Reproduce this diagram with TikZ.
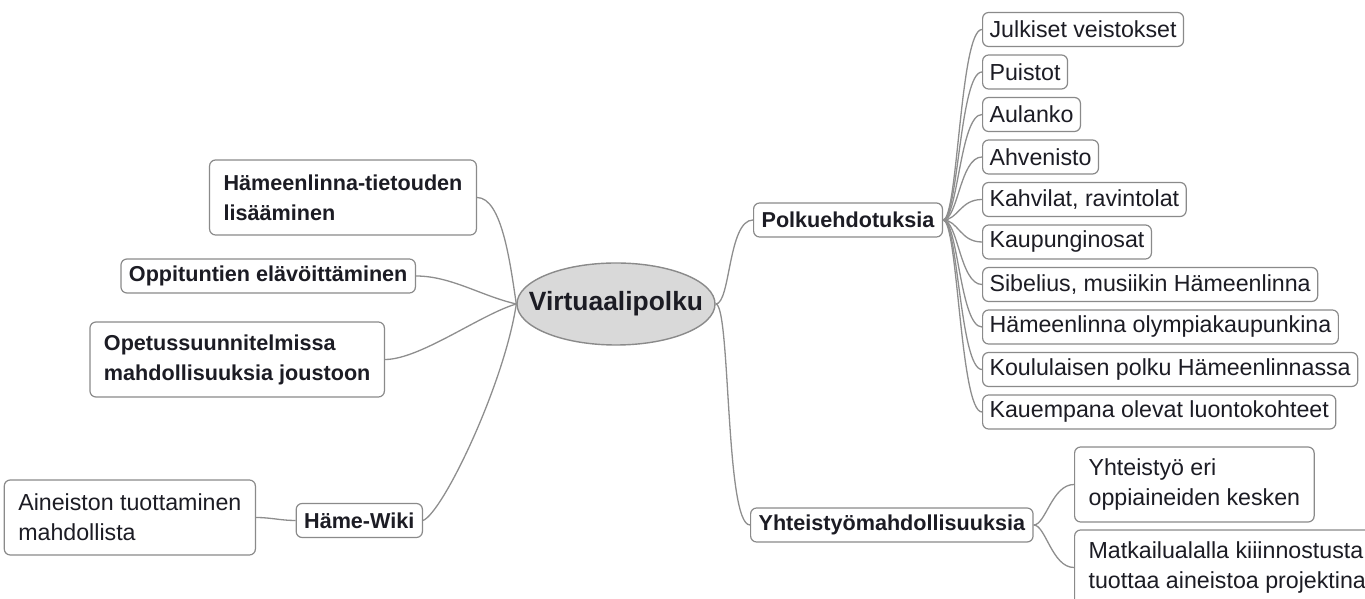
\documentclass[tikz,border=0pt]{standalone}
\usepackage{fontspec}
\setmainfont{Liberation Sans}
\usepackage{tikz}
\usetikzlibrary{shapes.geometric}
\definecolor{linegray}{HTML}{8E8E8E}
\definecolor{boxgray}{HTML}{8A8A8A}
\definecolor{hubfill}{HTML}{D9D9D9}
\definecolor{inkblack}{HTML}{1C1C24}
\tikzset{
  topic/.style={draw=boxgray,fill=white,rounded corners=3pt,line width=0.6pt,text=inkblack,inner xsep=3.5pt,inner ysep=0pt,minimum height=17pt,font=\fontsize{11.6}{15}\selectfont},
  branch/.style={topic,inner xsep=4pt,font=\fontsize{10.8}{15}\selectfont\bfseries},
  twoline/.style={align=left,inner xsep=7pt,minimum height=37.5pt},
  link/.style={draw=linegray,line width=0.65pt}
}

\begin{document}
\begin{tikzpicture}[x=0.5pt,y=0.5pt]
\useasboundingbox (0,0) rectangle (1365,599);
\clip (0,0) rectangle (1365,599);
% keskus
\node[ellipse,draw=boxgray,fill=hubfill,line width=0.7pt,minimum width=99pt,minimum height=41pt,inner sep=0pt,text=inkblack,font=\fontsize{13.2}{15}\selectfont\bfseries](v)at(616,295){\makebox[0pt]{Virtuaalipolku}};
% vasen puoli
\node[branch,twoline,anchor=east](hl)at(477,401.5){Hämeenlinna-tietouden\\lisääminen};
\node[branch,anchor=east](ot)at(416,323){Oppituntien elävöittäminen};
\node[branch,twoline,anchor=east](op)at(385,239.5){Opetussuunnitelmissa\\mahdollisuuksia joustoon};
\node[branch,anchor=east](hw)at(423,78.5){Häme-Wiki};
\node[topic,twoline,anchor=east](ai)at(256,81.5){Aineiston tuottaminen\\mahdollista};
\draw[link] (v.west) .. controls +(-6,40) and +(25,0) .. (hl.east);
\draw[link] (v.west) .. controls +(-35,8) and +(35,0) .. (ot.east);
\draw[link] (v.west) .. controls +(-35,-10) and +(35,0) .. (op.east);
\draw[link] (v.west) .. controls +(-12,-80) and +(20,8) .. (hw.east);
\draw[link] (hw.west) .. controls +(-15,0) and +(15,0) .. (ai.east);
% oikea puoli
\node[branch,anchor=west](pe)at(753,379){Polkuehdotuksia};
\node[branch,anchor=west](ym)at(750,74){Yhteistyömahdollisuuksia};
\draw[link] (v.east) .. controls +(15,0) and +(-25,0) .. (pe.west);
\draw[link] (v.east) .. controls +(15,0) and +(-25,0) .. (ym.west);
\node[topic,anchor=west](p1)at(982,569.5){Julkiset veistokset};
\node[topic,anchor=west](p2)at(982,527){Puistot};
\node[topic,anchor=west](p3)at(982,484.5){Aulanko};
\node[topic,anchor=west](p4)at(982,442){Ahvenisto};
\node[topic,anchor=west](p5)at(982,399.5){Kahvilat, ravintolat};
\node[topic,anchor=west](p6)at(982,357){Kaupunginosat};
\node[topic,anchor=west](p7)at(982,314.5){Sibelius, musiikin Hämeenlinna};
\node[topic,anchor=west](p8)at(982,272){Hämeenlinna olympiakaupunkina};
\node[topic,anchor=west](p9)at(982,229.5){Koululaisen polku Hämeenlinnassa};
\node[topic,anchor=west](p10)at(982,187){Kauempana olevat luontokohteet};
\draw[link] (pe.east) .. controls +(15,0) and +(-22,0) .. (p1.west);
\draw[link] (pe.east) .. controls +(15,0) and +(-22,0) .. (p2.west);
\draw[link] (pe.east) .. controls +(15,0) and +(-22,0) .. (p3.west);
\draw[link] (pe.east) .. controls +(15,0) and +(-22,0) .. (p4.west);
\draw[link] (pe.east) .. controls +(15,0) and +(-22,0) .. (p5.west);
\draw[link] (pe.east) .. controls +(15,0) and +(-22,0) .. (p6.west);
\draw[link] (pe.east) .. controls +(15,0) and +(-22,0) .. (p7.west);
\draw[link] (pe.east) .. controls +(15,0) and +(-22,0) .. (p8.west);
\draw[link] (pe.east) .. controls +(15,0) and +(-22,0) .. (p9.west);
\draw[link] (pe.east) .. controls +(15,0) and +(-22,0) .. (p10.west);
\node[topic,twoline,anchor=west](y1)at(1074,114.5){Yhteistyö eri\\oppiaineiden kesken};
\node[topic,twoline,anchor=west](y2)at(1074,31.5){Matkailualalla kiiinnostusta\\tuottaa aineistoa projektina};
\draw[link] (ym.east) .. controls +(12,0) and +(-22,0) .. (y1.west);
\draw[link] (ym.east) .. controls +(12,0) and +(-22,0) .. (y2.west);
\end{tikzpicture}
\end{document}
